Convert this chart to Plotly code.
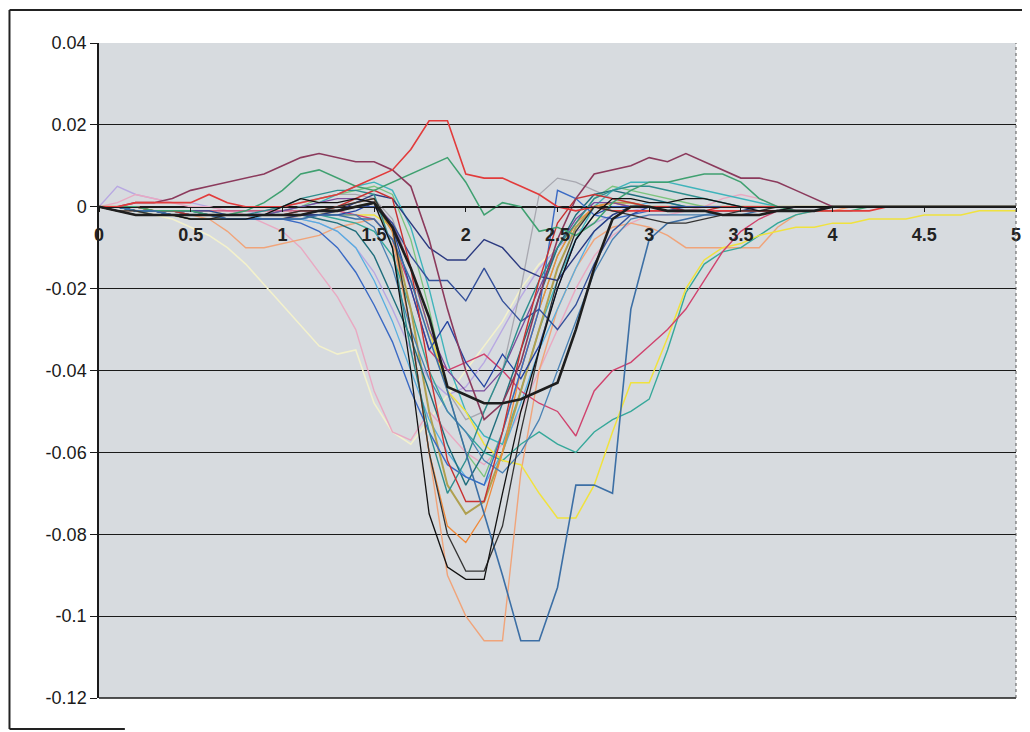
import plotly.graph_objects as go

x_vals = [round(i * 0.1, 1) for i in range(51)]

maroon = [0, 0, 0.001, 0.001, 0.002, 0.004, 0.005, 0.006, 0.007, 0.008,
          0.010, 0.012, 0.013, 0.012, 0.011, 0.011, 0.009, 0.005, -0.008, -0.025,
          -0.040, -0.052, -0.048, -0.038, -0.022, -0.008, 0.002, 0.008, 0.009, 0.010,
          0.012, 0.011, 0.013, 0.011, 0.009, 0.007, 0.007, 0.006, 0.004, 0.002,
          0, 0, 0, 0, 0, 0, 0, 0, 0, 0, 0]
red = [0, 0, 0.001, 0.001, 0.001, 0.001, 0.003, 0.001, 0, 0,
       0, 0.001, 0.002, 0.003, 0.005, 0.007, 0.009, 0.014, 0.021, 0.021,
       0.008, 0.007, 0.007, 0.005, 0.003, 0, -0.001, 0, -0.001, -0.001,
       -0.001, -0.001, -0.001, -0.001, -0.001, -0.001, -0.001, -0.001, -0.001, -0.001,
       -0.001, -0.001, -0.001, 0, 0, 0, 0, 0, 0, 0, 0]
green = [0, 0, 0, -0.001, -0.001, -0.001, -0.002, -0.002, -0.001, 0.001,
         0.004, 0.008, 0.009, 0.007, 0.005, 0.004, 0.006, 0.008, 0.010, 0.012,
         0.006, -0.002, 0.001, 0, -0.006, -0.005, -0.007, -0.004, 0.001, 0.004,
         0.006, 0.006, 0.007, 0.008, 0.008, 0.006, 0.002, 0, -0.001, -0.001,
         -0.001, -0.001, 0, 0, 0, 0, 0, 0, 0, 0, 0]
cream = [0, 0, -0.001, -0.002, -0.003, -0.005, -0.007, -0.010, -0.014, -0.019,
         -0.024, -0.029, -0.034, -0.036, -0.035, -0.048, -0.055, -0.058, -0.052, -0.046,
         -0.040, -0.034, -0.028, -0.020, -0.014, -0.010, -0.006, -0.003, -0.002, -0.001,
         0, 0, 0, 0, 0, 0, 0, 0, 0, 0,
         0, 0, 0, 0, 0, 0, 0, 0, 0, 0, 0]
pink = [0, 0.001, 0.003, 0.002, 0.001, 0, 0, -0.001, -0.002, -0.004,
        -0.006, -0.010, -0.016, -0.022, -0.030, -0.045, -0.055, -0.057, -0.050, -0.055,
        -0.060, -0.063, -0.058, -0.050, -0.040, -0.030, -0.020, -0.012, -0.007, -0.004,
        -0.002, -0.002, -0.001, 0, 0.002, 0.003, 0.002, 0, 0, 0,
        0, 0, 0, 0, 0, 0, 0, 0, 0, 0, 0]
lavender = [0, 0.005, 0.003, 0.002, 0.001, 0.001, 0, -0.001, -0.001, -0.002,
            -0.002, -0.003, -0.004, -0.006, -0.010, -0.016, -0.025, -0.035, -0.042, -0.046,
            -0.044, -0.038, -0.030, -0.022, -0.015, -0.010, -0.006, -0.004, -0.002, -0.001,
            0, 0, 0, 0, 0, 0, 0, 0, 0, 0,
            0, 0, 0, 0, 0, 0, 0, 0, 0, 0, 0]
peach = [0, -0.001, -0.001, -0.001, -0.001, -0.002, -0.003, -0.006, -0.010, -0.010,
         -0.009, -0.008, -0.007, -0.005, -0.004, -0.003, -0.008, -0.030, -0.060, -0.090,
         -0.100, -0.106, -0.106, -0.065, -0.040, -0.025, -0.015, -0.008, -0.005, -0.004,
         -0.005, -0.007, -0.010, -0.010, -0.010, -0.010, -0.010, -0.005, -0.002, -0.001,
         -0.001, 0, 0, 0, 0, 0, 0, 0, 0, 0, 0]
steel = [0, 0, -0.001, -0.001, -0.002, -0.002, -0.002, -0.003, -0.003, -0.003,
         -0.003, -0.003, -0.002, -0.002, -0.003, -0.003, -0.008, -0.018, -0.032, -0.045,
         -0.060, -0.075, -0.090, -0.106, -0.106, -0.093, -0.068, -0.068, -0.070, -0.025,
         -0.008, -0.004, -0.003, -0.002, -0.002, -0.002, -0.001, -0.001, -0.001, -0.001,
         0, 0, 0, 0, 0, 0, 0, 0, 0, 0, 0]
black_thick = [0, -0.001, -0.002, -0.002, -0.002, -0.002, -0.002, -0.002, -0.002, -0.002,
               -0.002, -0.002, -0.001, -0.001, 0, 0.001, -0.005, -0.015, -0.027, -0.044,
               -0.046, -0.048, -0.048, -0.047, -0.045, -0.043, -0.030, -0.015, -0.003, 0,
               0, -0.001, -0.001, -0.001, -0.002, -0.002, -0.002, -0.001, -0.001, -0.001,
               0, 0, 0, 0, 0, 0, 0, 0, 0, 0, 0]
black_a = [0, -0.001, -0.002, -0.002, -0.002, -0.003, -0.003, -0.003, -0.003, -0.002,
           0, 0.002, 0.001, 0.001, 0.002, 0.001, -0.010, -0.040, -0.075, -0.088,
           -0.091, -0.091, -0.070, -0.050, -0.035, -0.020, -0.008, -0.002, 0.002, 0.002,
           0.001, 0.001, 0.002, 0.002, 0.001, 0, -0.001, -0.001, 0, 0,
           0, 0, 0, 0, 0, 0, 0, 0, 0, 0, 0]
black_b = [0, -0.001, -0.001, -0.002, -0.002, -0.003, -0.003, -0.002, -0.002, -0.002,
           -0.002, -0.001, -0.001, 0, 0.001, 0.002, -0.005, -0.030, -0.060, -0.080,
           -0.089, -0.089, -0.078, -0.055, -0.035, -0.018, -0.006, 0, -0.001, -0.002,
           -0.003, -0.004, -0.004, -0.003, -0.002, -0.001, -0.001, 0, 0, 0,
           0, 0, 0, 0, 0, 0, 0, 0, 0, 0, 0]
teal = [0, 0, -0.001, -0.001, -0.001, -0.002, -0.002, -0.002, -0.002, -0.001,
        0, 0.002, 0.003, 0.004, 0.004, 0.003, -0.010, -0.035, -0.055, -0.070,
        -0.062, -0.050, -0.040, -0.028, -0.018, -0.010, -0.004, 0.002, 0.004, 0.005,
        0.005, 0.004, 0.003, 0.002, 0.001, 0, 0, 0, 0, 0,
        0, 0, 0, 0, 0, 0, 0, 0, 0, 0, 0]
navy = [0, 0, -0.001, -0.001, -0.002, -0.002, -0.002, -0.003, -0.003, -0.003,
        -0.003, -0.002, -0.002, -0.001, 0.001, 0.003, 0.002, -0.004, -0.010, -0.013,
        -0.013, -0.008, -0.010, -0.015, -0.017, -0.018, -0.012, -0.006, -0.002, 0,
        0, 0, -0.001, -0.001, -0.001, -0.001, 0, 0, 0, 0,
        0, 0, 0, 0, 0, 0, 0, 0, 0, 0, 0]
dblue = [0, 0, -0.001, -0.001, -0.001, -0.001, -0.002, -0.002, -0.002, -0.002,
         -0.002, -0.002, -0.001, -0.001, 0, 0, -0.004, -0.012, -0.018, -0.018,
         -0.023, -0.015, -0.023, -0.028, -0.025, -0.030, -0.024, -0.014, -0.006, -0.002,
         0, 0, 0, 0, 0, 0, 0, 0, 0, 0,
         0, 0, 0, 0, 0, 0, 0, 0, 0, 0, 0]
cyan = [0, 0, 0, -0.001, -0.001, -0.001, -0.001, -0.002, -0.002, -0.002,
        -0.001, 0, 0.001, 0.003, 0.005, 0.006, 0.004, -0.005, -0.020, -0.038,
        -0.050, -0.056, -0.058, -0.045, -0.030, -0.018, -0.008, 0, 0.004, 0.006,
        0.006, 0.006, 0.005, 0.004, 0.003, 0.002, 0.001, 0, 0, 0,
        0, 0, 0, 0, 0, 0, 0, 0, 0, 0, 0]
yellow = [0, 0, 0, -0.001, -0.001, -0.001, -0.001, -0.002, -0.002, -0.002,
          -0.002, -0.002, -0.002, -0.002, -0.002, -0.002, -0.005, -0.015, -0.030, -0.045,
          -0.050, -0.058, -0.062, -0.063, -0.070, -0.076, -0.076, -0.068, -0.055, -0.043,
          -0.043, -0.032, -0.020, -0.013, -0.010, -0.009, -0.007, -0.006, -0.005, -0.005,
          -0.004, -0.004, -0.003, -0.003, -0.003, -0.002, -0.002, -0.002, -0.001, -0.001, -0.001]
seagreen = [0, 0, -0.001, -0.001, -0.001, -0.002, -0.002, -0.002, -0.002, -0.002,
            -0.002, -0.002, -0.002, -0.003, -0.004, -0.006, -0.012, -0.025, -0.040, -0.050,
            -0.055, -0.060, -0.062, -0.058, -0.055, -0.058, -0.060, -0.055, -0.052, -0.050,
            -0.047, -0.035, -0.021, -0.014, -0.011, -0.010, -0.007, -0.004, -0.002, -0.001,
            0, 0, 0, 0, 0, 0, 0, 0, 0, 0, 0]
rose = [0, 0, 0, -0.001, -0.001, -0.001, -0.001, -0.001, -0.001, -0.001,
        -0.001, -0.001, -0.001, -0.001, -0.002, -0.003, -0.008, -0.020, -0.035, -0.040,
        -0.038, -0.036, -0.040, -0.045, -0.048, -0.050, -0.056, -0.045, -0.040, -0.038,
        -0.034, -0.030, -0.025, -0.018, -0.011, -0.006, -0.003, -0.001, 0, 0,
        0, 0, 0, 0, 0, 0, 0, 0, 0, 0, 0]
skyblue = [0, 0, -0.001, -0.001, -0.001, -0.001, -0.002, -0.002, -0.002, -0.003,
           -0.003, -0.003, -0.004, -0.006, -0.010, -0.018, -0.028, -0.040, -0.052, -0.060,
           -0.066, -0.068, -0.060, -0.048, -0.035, -0.025, -0.015, -0.006, -0.002, 0,
           0.001, 0.001, 0, 0, 0, 0, 0, 0, 0, 0,
           0, 0, 0, 0, 0, 0, 0, 0, 0, 0, 0]
blue = [0, 0, -0.001, -0.001, -0.002, -0.002, -0.002, -0.003, -0.003, -0.003,
        -0.003, -0.004, -0.006, -0.010, -0.016, -0.024, -0.033, -0.045, -0.055, -0.063,
        -0.066, -0.068, -0.055, -0.040, -0.025, 0.004, 0.002, -0.002, -0.003, -0.002,
        -0.001, -0.001, 0, 0, 0, 0, 0, 0, 0, 0,
        0, 0, 0, 0, 0, 0, 0, 0, 0, 0, 0]
gray = [0, 0, -0.001, -0.001, -0.002, -0.002, -0.002, -0.002, -0.001, -0.001,
        0, 0.001, 0.002, 0.003, 0.003, 0.002, -0.003, -0.015, -0.030, -0.045,
        -0.052, -0.050, -0.040, -0.020, 0.003, 0.007, 0.006, 0.004, 0.002, 0.001,
        0, 0, 0, 0, 0, 0, 0, 0, 0, 0,
        0, 0, 0, 0, 0, 0, 0, 0, 0, 0, 0]
olive = [0, 0, -0.001, -0.002, -0.002, -0.003, -0.003, -0.003, -0.003, -0.003,
         -0.003, -0.002, -0.002, -0.001, 0, 0.001, -0.006, -0.025, -0.050, -0.068,
         -0.075, -0.072, -0.060, -0.045, -0.030, -0.015, -0.005, 0, 0.001, 0.001,
         0, 0, 0, 0, 0, 0, 0, 0, 0, 0,
         0, 0, 0, 0, 0, 0, 0, 0, 0, 0, 0]
dteal = [0, 0, -0.001, -0.001, -0.002, -0.002, -0.002, -0.002, -0.002, -0.002,
         -0.002, -0.002, -0.003, -0.004, -0.006, -0.012, -0.022, -0.032, -0.045, -0.058,
         -0.068, -0.060, -0.048, -0.035, -0.022, -0.010, -0.002, 0.003, 0.004, 0.003,
         0.002, 0.001, 0, 0, 0, 0, 0, 0, 0, 0,
         0, 0, 0, 0, 0, 0, 0, 0, 0, 0, 0]
red2 = [0, 0, 0, -0.001, -0.001, -0.002, -0.002, -0.002, -0.002, -0.002,
        -0.002, -0.001, -0.001, 0, 0.002, 0.004, 0.002, -0.015, -0.040, -0.062,
        -0.072, -0.072, -0.055, -0.035, -0.018, -0.004, 0.002, 0.003, 0.002, 0.001,
        0, 0, -0.001, -0.001, 0, 0, 0, 0, 0, 0,
        0, 0, 0, 0, 0, 0, 0, 0, 0, 0, 0]
purple = [0, 0, -0.001, -0.001, -0.001, -0.002, -0.002, -0.002, -0.002, -0.002,
          -0.001, 0, 0.001, 0.002, 0.002, 0.001, -0.004, -0.015, -0.030, -0.040,
          -0.045, -0.045, -0.040, -0.030, -0.020, -0.010, -0.003, 0.001, 0.001, 0,
          0, 0, 0, 0, 0, 0, 0, 0, 0, 0,
          0, 0, 0, 0, 0, 0, 0, 0, 0, 0, 0]
lgreen = [0, 0, 0, -0.001, -0.001, -0.001, -0.002, -0.002, -0.002, -0.002,
          -0.001, 0, 0.002, 0.003, 0.004, 0.005, 0.003, -0.008, -0.025, -0.045,
          -0.060, -0.066, -0.055, -0.040, -0.025, -0.012, -0.004, 0.002, 0.005, 0.004,
          0.003, 0.002, 0.001, 0, 0, 0, 0, 0, 0, 0,
          0, 0, 0, 0, 0, 0, 0, 0, 0, 0, 0]
orange = [0, 0, -0.001, -0.001, -0.001, -0.002, -0.002, -0.002, -0.002, -0.002,
          -0.002, -0.002, -0.001, 0, 0.001, 0.002, -0.006, -0.030, -0.060, -0.078,
          -0.082, -0.075, -0.060, -0.040, -0.025, -0.012, -0.004, 0, 0.001, 0,
          0, 0, 0, 0, 0, 0, 0, 0, 0, 0,
          0, 0, 0, 0, 0, 0, 0, 0, 0, 0, 0]
steel2 = [0, 0, -0.001, -0.002, -0.002, -0.003, -0.003, -0.003, -0.003, -0.003,
          -0.003, -0.003, -0.002, -0.002, -0.002, -0.005, -0.015, -0.030, -0.042, -0.050,
          -0.055, -0.062, -0.065, -0.060, -0.052, -0.040, -0.028, -0.016, -0.008, -0.003,
          -0.002, -0.002, -0.002, -0.002, -0.001, -0.001, -0.001, -0.001, 0, 0,
          0, 0, 0, 0, 0, 0, 0, 0, 0, 0, 0]
blue3 = [0, 0, -0.001, -0.001, -0.001, -0.001, -0.001, -0.002, -0.002, -0.002,
         -0.002, -0.002, -0.002, -0.002, -0.001, 0.001, -0.005, -0.020, -0.035, -0.028,
         -0.038, -0.044, -0.036, -0.042, -0.034, -0.020, -0.008, -0.002, 0, 0,
         0, 0, 0, 0, 0, 0, 0, 0, 0, 0,
         0, 0, 0, 0, 0, 0, 0, 0, 0, 0, 0]

series = [
    ("cream", cream, "#f3f1cc", 1.6),
    ("lavender", lavender, "#b8a8e2", 1.4),
    ("pink", pink, "#e9a9c2", 1.4),
    ("peach", peach, "#f0a47a", 1.4),
    ("gray", gray, "#a8a8b0", 1.3),
    ("lgreen", lgreen, "#7cc47e", 1.3),
    ("skyblue", skyblue, "#58aee0", 1.3),
    ("cyan", cyan, "#3fb4bb", 1.4),
    ("seagreen", seagreen, "#36a89a", 1.4),
    ("yellow", yellow, "#f0e23e", 1.5),
    ("rose", rose, "#d0436e", 1.4),
    ("olive", olive, "#b0a050", 2.0),
    ("orange", orange, "#f08a3a", 1.3),
    ("purple", purple, "#7a4c9c", 1.3),
    ("steel2", steel2, "#4a82b4", 1.3),
    ("dteal", dteal, "#206e7c", 1.4),
    ("blue", blue, "#3a6ac4", 1.4),
    ("blue3", blue3, "#2444a2", 1.3),
    ("dblue", dblue, "#34509a", 1.4),
    ("navy", navy, "#2b3a80", 1.4),
    ("teal", teal, "#2e8e8e", 1.4),
    ("red2", red2, "#c83232", 1.4),
    ("green", green, "#3fa070", 1.5),
    ("steel", steel, "#3c6fa5", 1.6),
    ("maroon", maroon, "#8b3a5c", 1.6),
    ("red", red, "#e23b3b", 1.6),
    ("black_b", black_b, "#333333", 1.3),
    ("black_a", black_a, "#111111", 1.3),
    ("black_thick", black_thick, "#1e1e1e", 2.6),
]

fig = go.Figure()
for name, vals, color, w in series:
    assert len(vals) == len(x_vals), name
    fig.add_trace(go.Scatter(x=x_vals, y=vals, mode="lines", name=name,
                             line=dict(color=color, width=w), showlegend=False,
                             hoverinfo="skip"))

y_ticks = [0.04, 0.02, 0, -0.02, -0.04, -0.06, -0.08, -0.1, -0.12]
y_labels = ["0.04", "0.02", "0", "-0.02", "-0.04", "-0.06", "-0.08", "-0.1", "-0.12"]
x_ticks = [0, 0.5, 1, 1.5, 2, 2.5, 3, 3.5, 4, 4.5, 5]
x_labels = ["0", "0.5", "1", "1.5", "2", "2.5", "3", "3.5", "4", "4.5", "5"]

# page offset of the figure (browser body margin)
OFF = 8
# plot area in page pixels
L, R, T, B = 99 - OFF, 1021 - OFF, 43 - OFF, 698 - OFF
W, H = 1030 - OFF, 732 - OFF
pw, ph = R - L, B - T


def px(xp):
    return (xp - OFF - L) / pw


def py(yp):
    return (B - (yp - OFF)) / ph


fnt = "Arial, Liberation Sans, sans-serif"

fig.update_layout(
    width=W, height=H,
    margin=dict(l=L, r=W - R, t=T, b=H - B, pad=0),
    paper_bgcolor="white",
    plot_bgcolor="#d7dbdf",
    font=dict(family=fnt, color="#1a1a1a", size=18),
    xaxis=dict(range=[0, 5], tickvals=x_ticks, ticktext=x_labels,
               showgrid=False, zeroline=False, showline=True, linecolor="#1a1a1a",
               linewidth=1, anchor="free", position=0.75,
               ticks="outside", ticklen=4, tickcolor="#1a1a1a", ticklabelstandoff=8,
               tickfont=dict(size=18, color="#222222", family=fnt, weight="bold")),
    yaxis=dict(range=[-0.12, 0.04], tickvals=y_ticks, ticktext=y_labels,
               showgrid=True, gridcolor="#1a1a1a", gridwidth=1,
               zeroline=True, zerolinecolor="#1a1a1a", zerolinewidth=1.2,
               showline=True, linecolor="#1a1a1a", linewidth=1.5,
               ticks="outside", ticklen=7, tickcolor="#1a1a1a",
               tickfont=dict(size=18, color="#1a1a1a", family=fnt)),
    shapes=[
        dict(type="line", xref="paper", yref="paper", x0=0, x1=1, y0=0, y1=0,
             line=dict(color="#1a1a1a", width=1.5)),
        dict(type="line", xref="paper", yref="paper", x0=1, x1=1, y0=0, y1=1,
             line=dict(color="#555555", width=1, dash="dot")),
        dict(type="line", xref="paper", yref="paper", x0=px(9), x1=px(9), y0=py(10), y1=py(729),
             line=dict(color="#222222", width=2)),
        dict(type="line", xref="paper", yref="paper", x0=px(9), x1=px(1035), y0=py(10), y1=py(10),
             line=dict(color="#222222", width=2)),
        dict(type="line", xref="paper", yref="paper", x0=px(9), x1=px(125), y0=py(729), y1=py(729),
             line=dict(color="#222222", width=2)),
    ],
)

fig.write_html("out.html")
